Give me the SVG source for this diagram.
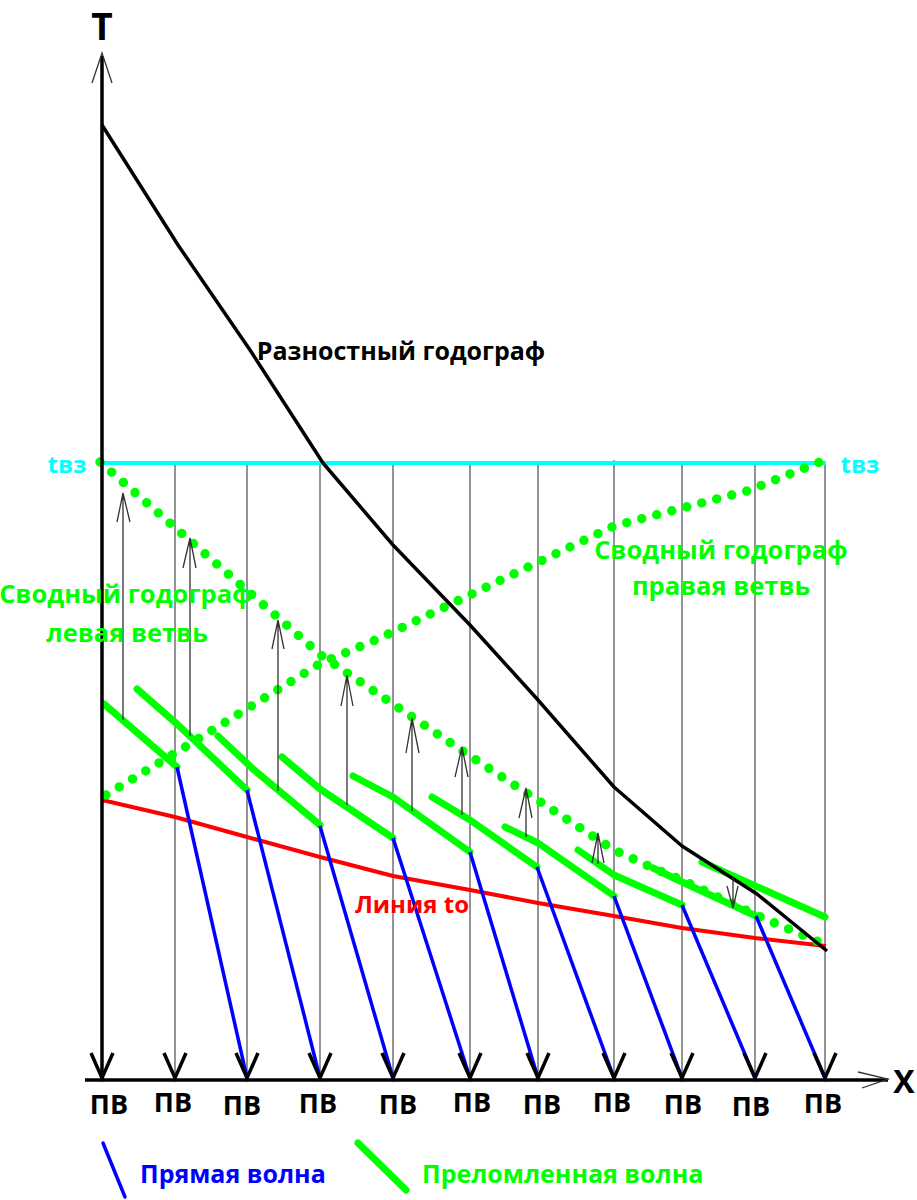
<svg xmlns="http://www.w3.org/2000/svg" width="917" height="1200" viewBox="0 0 917 1200">
<style>
.grid{stroke:#707070;stroke-width:1.5;fill:none}
.axis{stroke:#000;stroke-width:3.5;fill:none}
.thin{stroke:#333;stroke-width:1.3;fill:none}
.tick{stroke:#000;stroke-width:3.5;fill:none}
.blue{stroke:#0000ff;stroke-width:3.5;fill:none}
.green{stroke:#00ff00;stroke-width:7;fill:none;stroke-linecap:round;stroke-linejoin:round}
.dots{stroke:#00ff00;stroke-width:9.5;fill:none;stroke-linecap:round;stroke-dasharray:0 15.5}
.lbl{font-family:"Open Sans","DejaVu Sans",sans-serif;font-weight:bold}
</style>
<rect width="917" height="1200" fill="#fff"/>
<g id="grid">
<line class="grid" x1="175" y1="463" x2="175" y2="1080"/>
<line class="grid" x1="247" y1="463" x2="247" y2="1080"/>
<line class="grid" x1="320" y1="463" x2="320" y2="1080"/>
<line class="grid" x1="393" y1="463" x2="393" y2="1080"/>
<line class="grid" x1="470" y1="463" x2="470" y2="1080"/>
<line class="grid" x1="538" y1="463" x2="538" y2="1080"/>
<line class="grid" x1="614" y1="460" x2="614" y2="1080"/>
<line class="grid" x1="682" y1="463" x2="682" y2="1080"/>
<line class="grid" x1="755" y1="463" x2="755" y2="1080"/>
<line class="grid" x1="825" y1="463" x2="825" y2="1080"/>
</g>
<g id="tvz-line"><line x1="102" y1="463" x2="826" y2="463" stroke="#00ffff" stroke-width="4"/></g>
<g id="line-to"><polyline points="102,800 175,817 247,837 320,857 393,876 470,890 538,903 614,916 682,928 755,938 826,946" fill="none" stroke="#ff0000" stroke-width="4"/></g>
<g id="summary-left"><polyline class="dots" points="100,462 322,656 470,756 614,850 655,869 682,880 756,915 826,945"/></g>
<g id="summary-right"><polyline class="dots" points="106,795 177,752 321,663 378,639 572,546 614,526 747,491 820,462"/></g>
<g id="refracted">
<polyline class="green" points="104,704 177,767"/>
<polyline class="green" points="137,689 177,724 247,790"/>
<polyline class="green" points="218,736 253,769 320,825"/>
<polyline class="green" points="282,757 320,789 393,838"/>
<polyline class="green" points="353,776 393,797 470,852"/>
<polyline class="green" points="432,797 470,820 537,867"/>
<polyline class="green" points="505,827 538,843 614,896"/>
<polyline class="green" points="578,850 614,875 682,905"/>
<polyline class="green" points="653,868 682,882 756,916"/>
<polyline class="green" points="702,862 825,917"/>
</g>
<g id="raznostny"><polyline points="102,125 178,245 250,350 323,463 393,545 470,625 538,700 614,787 682,846 757,894 827,951" fill="none" stroke="#000" stroke-width="3.5" stroke-linejoin="round"/></g>
<g id="direct">
<line class="blue" x1="177" y1="767" x2="247" y2="1078"/>
<line class="blue" x1="247" y1="790" x2="320" y2="1078"/>
<line class="blue" x1="320" y1="826" x2="393" y2="1078"/>
<line class="blue" x1="393" y1="838" x2="470" y2="1078"/>
<line class="blue" x1="470" y1="852" x2="538" y2="1078"/>
<line class="blue" x1="537" y1="867" x2="614" y2="1078"/>
<line class="blue" x1="614" y1="896" x2="682" y2="1078"/>
<line class="blue" x1="682" y1="905" x2="755" y2="1078"/>
<line class="blue" x1="756" y1="916" x2="825" y2="1078"/>
</g>
<g id="shift-arrows">
<path class="thin" d="M123,720 V493 M117,522 L123,493 L130,522"/>
<path class="thin" d="M190,736 V538 M183,568 L190,538 L196,568"/>
<path class="thin" d="M278,791 V620 M272,649 L278,620 L284,649"/>
<path class="thin" d="M347,805 V675 M341,706 L347,675 L353,706"/>
<path class="thin" d="M412,811 V718 M406,753 L412,718 L419,753"/>
<path class="thin" d="M462,815 V747 M455,777 L462,747 L468,777"/>
<path class="thin" d="M526,837 V788 M519,818 L526,788 L532,818"/>
<path class="thin" d="M598,864 V833 M592,863 L598,833 L604,863"/>
<path class="thin" d="M733,877 V908 M727,886 L733,908 L738,886"/>
</g>
<g id="axes">
<line class="axis" x1="102" y1="56" x2="102" y2="1080"/>
<line class="axis" x1="85" y1="1080" x2="888" y2="1080"/>
<path class="thin" d="M92,83 L102,53 L112,83"/>
<path class="thin" d="M858,1072 L888,1079 L862,1088"/>
</g>
<g id="stations">
<path class="tick" d="M91,1053 L102,1078 L113,1053"/>
<path class="tick" d="M164,1053 L175,1078 L186,1053"/>
<path class="tick" d="M236,1053 L247,1078 L258,1053"/>
<path class="tick" d="M309,1053 L320,1078 L331,1053"/>
<path class="tick" d="M382,1053 L393,1078 L404,1053"/>
<path class="tick" d="M459,1053 L470,1078 L481,1053"/>
<path class="tick" d="M527,1053 L538,1078 L549,1053"/>
<path class="tick" d="M603,1053 L614,1078 L625,1053"/>
<path class="tick" d="M671,1053 L682,1078 L693,1053"/>
<path class="tick" d="M744,1053 L755,1078 L766,1053"/>
<path class="tick" d="M814,1053 L825,1078 L836,1053"/>
</g>
<g id="labels" class="lbl" text-anchor="middle">
<text x="102" y="40" font-size="37">T</text>
<text x="904" y="1093" font-size="32">X</text>
<g font-size="27" fill="#000">
<text x="109" y="1114">ПВ</text>
<text x="173" y="1112">ПВ</text>
<text x="242" y="1115">ПВ</text>
<text x="318" y="1113">ПВ</text>
<text x="398" y="1114">ПВ</text>
<text x="472" y="1112">ПВ</text>
<text x="542" y="1114">ПВ</text>
<text x="612" y="1112">ПВ</text>
<text x="683" y="1114">ПВ</text>
<text x="751" y="1116">ПВ</text>
<text x="823" y="1113">ПВ</text>
</g>
<text x="401" y="360" font-size="25" fill="#000">Разностный годограф</text>
<text x="67" y="473" font-size="24" fill="#00ffff">tвз</text>
<text x="860" y="473" font-size="24" fill="#00ffff">tвз</text>
<text x="126" y="603" font-size="25.5" fill="#00ff00">Сводный годограф</text>
<text x="127" y="642" font-size="25.5" fill="#00ff00">левая ветвь</text>
<text x="721" y="559" font-size="25.5" fill="#00ff00">Сводный годограф</text>
<text x="721" y="595" font-size="25.5" fill="#00ff00">правая ветвь</text>
<text x="412" y="913" font-size="24" fill="#ff0000">Линия to</text>
</g>
<g id="legend">
<line x1="103" y1="1143" x2="125" y2="1197" stroke="#0000ff" stroke-width="3.5" stroke-linecap="round"/>
<text class="lbl" x="140" y="1183" font-size="25" fill="#0000ff">Прямая волна</text>
<line x1="358" y1="1143" x2="406" y2="1190" stroke="#00ff00" stroke-width="7" stroke-linecap="round"/>
<text class="lbl" x="422" y="1183" font-size="25" fill="#00ff00">Преломленная волна</text>
</g>
</svg>
